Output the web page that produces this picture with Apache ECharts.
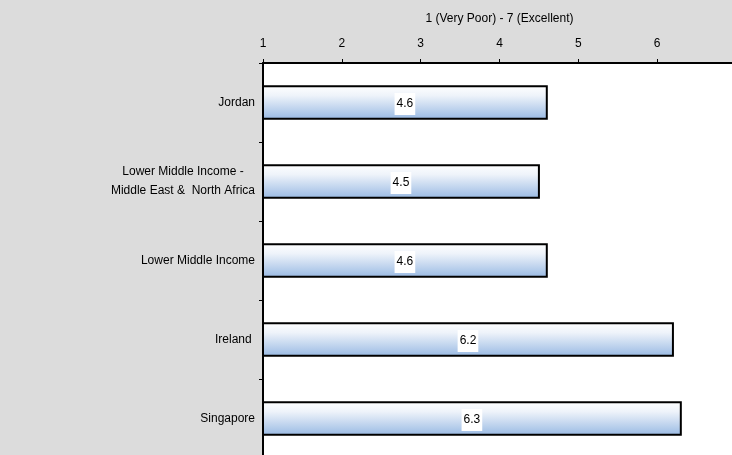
<!DOCTYPE html>
<html>
<head>
<meta charset="utf-8">
<script src="https://cdn.jsdelivr.net/npm/echarts@6/dist/echarts.min.js"></script>
<style>
  html, body { margin: 0; padding: 0; background: #dcdcdc; }
  #chart { width: 732px; height: 455px; }
</style>
</head>
<body>
<div id="chart"></div>
<script>
// Scores on a 1 (Very Poor) to 7 (Excellent) scale
const categories = [
  'Jordan',
  'Lower Middle Income -\nMiddle East &  North Africa',
  'Lower Middle Income',
  'Ireland ',
  'Singapore'
];
const scores = [4.6, 4.5, 4.6, 6.2, 6.3];
const scoreLabels = ['4.6', '4.5', '4.6', '6.2', '6.3'];
const axisTicks = [1, 2, 3, 4, 5, 6, 7];
const axisTitle = '1 (Very Poor) - 7 (Excellent)';
const scaleStart = 1;

const chart = echarts.init(document.getElementById('chart'));

const barFill = new echarts.graphic.LinearGradient(0, 0, 0, 1, [
  { offset: 0, color: '#ffffff' },
  { offset: 0.3, color: '#eef3fa' },
  { offset: 1, color: '#98b9e3' }
]);

function renderBar(params, api) {
  const idx = api.value(0);
  const v = api.value(1);
  const start = api.coord([scaleStart, idx]);
  const end = api.coord([v, idx]);
  const band = api.size([0, 1])[1];
  const h = band * 0.41;
  const x0 = start[0];
  const x1 = end[0];
  const yc = start[1];
  return {
    type: 'group',
    children: [
      {
        type: 'rect',
        shape: { x: x0, y: yc - h / 2, width: x1 - x0, height: h },
        style: { fill: barFill, stroke: '#000', lineWidth: 2 }
      },
      {
        type: 'text',
        style: {
          text: scoreLabels[idx],
          x: (x0 + x1) / 2,
          y: yc + 1.5,
          align: 'center',
          verticalAlign: 'middle',
          fontFamily: 'Liberation Sans, Arial, sans-serif',
          fontSize: 12,
          fill: '#000',
          backgroundColor: '#ffffff',
          padding: [5, 2, 5, 2]
        }
      }
    ]
  };
}

chart.setOption({
  backgroundColor: '#dcdcdc',
  animation: false,
  grid: {
    left: 263,
    top: 63,
    right: -4,
    bottom: -3,
    outerBoundsMode: 'none',
    containLabel: false,
    show: true,
    backgroundColor: '#ffffff',
    borderWidth: 0
  },
  xAxis: {
    type: 'value',
    position: 'top',
    min: axisTicks[0],
    max: axisTicks[axisTicks.length - 1],
    interval: 1,
    name: axisTitle,
    nameLocation: 'middle',
    nameGap: 38,
    nameTextStyle: { fontFamily: 'Liberation Sans, Arial, sans-serif', fontSize: 12, color: '#000' },
    axisLine: { show: true, lineStyle: { color: '#000', width: 2 } },
    axisTick: { show: true, length: 4, lineStyle: { color: '#000', width: 1 } },
    axisLabel: { margin: 13, fontFamily: 'Liberation Sans, Arial, sans-serif', fontSize: 12, color: '#000' },
    splitLine: { show: false }
  },
  yAxis: {
    type: 'category',
    inverse: true,
    data: categories,
    axisLine: { show: true, lineStyle: { color: '#000', width: 2 } },
    axisTick: { show: true, length: 4, alignWithLabel: false, lineStyle: { color: '#000', width: 1 } },
    axisLabel: {
      margin: 8,
      fontFamily: 'Liberation Sans, Arial, sans-serif',
      fontSize: 12,
      color: '#000',
      lineHeight: 19,
      formatter: function (val) {
        return val.split('\n').map(function (s) { return '{c|' + s + '}'; }).join('\n');
      },
      rich: {
        c: { align: 'center', fontFamily: 'Liberation Sans, Arial, sans-serif', fontSize: 12, color: '#000', lineHeight: 19 }
      }
    }
  },
  series: [{
    type: 'custom',
    renderItem: renderBar,
    encode: { x: 1, y: 0 },
    data: scores.map(function (v, i) { return [i, v]; })
  }]
});
</script>
</body>
</html>
